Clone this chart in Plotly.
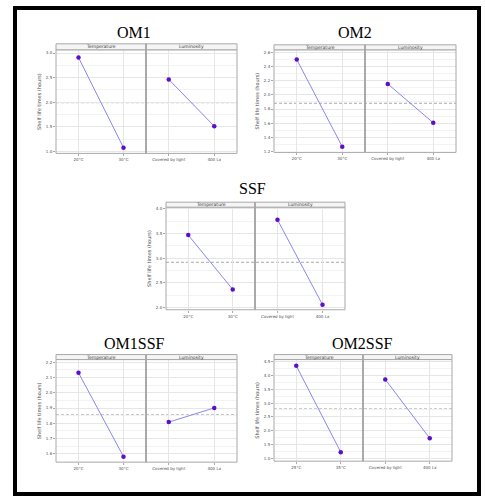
import plotly.graph_objects as go

W, H = 485, 499

panel_names = ["OM1", "OM2", "SSF", "OM1SSF", "OM2SSF"]
temp_labels = [["20°C", "30°C"], ["20°C", "30°C"], ["20°C", "30°C"], ["20°C", "30°C"], ["25°C", "35°C"]]
lum_labels = ["Covered by light", "400 Lx"]
temp_values = [[2.91, 1.075], [2.50, 1.266], [3.467, 2.365], [2.131, 1.582], [4.356, 1.217]]
lum_values = [[2.465, 1.513], [2.155, 1.605], [3.777, 2.055], [1.808, 1.901], [3.861, 1.722]]
y_dtick = [0.5, 0.2, 0.5, 0.1, 0.5]
y_ranges = [[0.96, 3.067], [1.186, 2.638], [1.953, 4.034], [1.546, 2.2175], [0.891, 4.583]]
facet_names = ["Temperature", "Luminosity"]

# layout in pixels: left, divider, right, plot top, plot bottom, strip top, title x, title y
boxes = [
    (56, 146, 237, 49, 153, 43, 134, 32),
    (274, 365, 456, 49, 152, 44, 355, 32),
    (166, 255, 345, 207, 310, 202, 252, 188),
    (56, 146, 237, 360, 463, 355, 134, 344),
    (274, 363, 452, 360, 462, 355, 362, 344),
]

def px(x):
    return x / W

def py(y):
    return 1 - y / H

LINE_C = "#8a86f2"
PT_C = "#5b0fc7"
GRID = "#e6e6e6"
MINOR = "#f3f3f3"
BORDER = "#a8a8a8"
TXT = "#4d4d4d"

fig = go.Figure()
layout = dict(
    width=W, height=H, margin=dict(l=0, r=0, t=0, b=0),
    paper_bgcolor="white", plot_bgcolor="rgba(0,0,0,0)", showlegend=False,
    font=dict(family="DejaVu Sans", color=TXT),
)
shapes = []
annotations = []

for i, name in enumerate(panel_names):
    L, D, R, T, B, ST, tx, ty = boxes[i]
    xa1, xa2, ya = 2 * i + 1, 2 * i + 2, i + 1
    yname = "y" if ya == 1 else f"y{ya}"
    allv = temp_values[i] + lum_values[i]
    mean = sum(allv) / len(allv)
    # grand mean dashed line across both facets
    shapes.append(dict(type="line", xref="paper", yref=yname, x0=px(L), x1=px(R),
                       y0=mean, y1=mean, line=dict(color="#a9a9a9", width=1, dash="3px,2px"),
                       layer="below"))
    for k, (xa, cats, vals, d0, d1) in enumerate([
        (xa1, temp_labels[i], temp_values[i], L, D),
        (xa2, lum_labels, lum_values[i], D, R),
    ]):
        xname = "x" if xa == 1 else f"x{xa}"
        fig.add_trace(go.Scatter(
            x=cats, y=vals, xaxis=xname, yaxis=yname, mode="lines+markers",
            line=dict(color=LINE_C, width=1),
            marker=dict(color=PT_C, size=4.5, symbol="circle"),
            cliponaxis=False,
        ))
        layout["xaxis" if xa == 1 else f"xaxis{xa}"] = dict(
            domain=[px(d0), px(d1)], anchor=yname, type="category",
            categoryorder="array", categoryarray=cats, range=[-0.5, 1.5],
            showgrid=True, gridcolor=GRID, gridwidth=1, zeroline=False,
            ticks="outside", ticklen=2, tickcolor=BORDER, tickwidth=0.6,
            tickfont=dict(size=4, color=TXT), showline=False, fixedrange=True,
        )
        # facet border
        shapes.append(dict(type="rect", xref="paper", yref="paper",
                           x0=px(d0), x1=px(d1), y0=py(B), y1=py(T),
                           line=dict(color=BORDER, width=1), fillcolor="rgba(0,0,0,0)", layer="above"))
        # strip
        shapes.append(dict(type="rect", xref="paper", yref="paper",
                           x0=px(d0), x1=px(d1), y0=py(T), y1=py(ST),
                           line=dict(color=BORDER, width=1), fillcolor="#f5f5f5", layer="above"))
        annotations.append(dict(text=facet_names[k], xref="paper", yref="paper",
                                x=px((d0 + d1) / 2), y=py((T + ST) / 2), showarrow=False,
                                font=dict(size=4.5, color="#333333"), xanchor="center", yanchor="middle"))
    # thicker divider
    shapes.append(dict(type="line", xref="paper", yref="paper", x0=px(D), x1=px(D),
                       y0=py(B), y1=py(ST), line=dict(color=BORDER, width=1.8), layer="above"))
    layout["yaxis" if ya == 1 else f"yaxis{ya}"] = dict(
        domain=[py(B), py(T)], anchor="x" if xa1 == 1 else f"x{xa1}",
        range=y_ranges[i], dtick=y_dtick[i], tick0=0, tickformat=".1f",
        showgrid=True, gridcolor=GRID, gridwidth=1, zeroline=False,
        minor=dict(dtick=y_dtick[i] / 2, tick0=0, showgrid=True, gridcolor=MINOR, gridwidth=0.8),
        ticks="outside", ticklen=2, tickcolor=BORDER, tickwidth=0.6,
        tickfont=dict(size=4, color=TXT), showline=False, fixedrange=True,
        title=dict(text="Shelf life times (hours)", font=dict(size=5, color=TXT), standoff=4),
    )
    annotations.append(dict(text=name, xref="paper", yref="paper", x=px(tx), y=py(ty),
                            showarrow=False, xanchor="center", yanchor="middle",
                            font=dict(family="Liberation Serif", size=16, color="black")))

# outer frame
shapes.append(dict(type="rect", xref="paper", yref="paper", x0=px(15), x1=px(479),
                   y0=py(495), y1=py(7), line=dict(color="black", width=4),
                   fillcolor="rgba(0,0,0,0)", layer="above"))

layout["shapes"] = shapes
layout["annotations"] = annotations
fig.update_layout(**layout)
fig.write_html("out.html")
